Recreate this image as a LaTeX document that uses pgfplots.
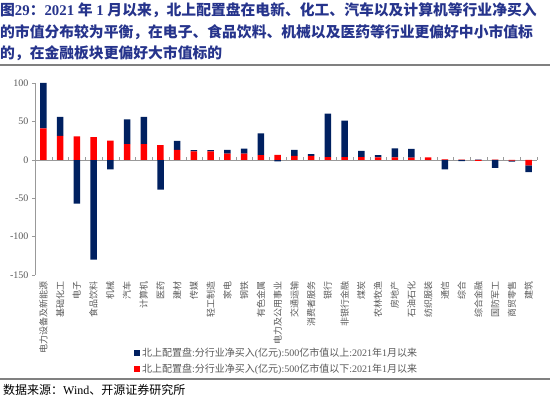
\documentclass[border=0pt]{standalone}
\usepackage{pgfplots}
\pgfplotsset{compat=1.18}
\usepackage{pgfplotstable}
\usepackage{fontspec}
\setmainfont{Liberation Serif}
\newfontfamily\cjk{Noto Sans CJK SC}
\definecolor{navy}{RGB}{0,32,96}
\definecolor{myred}{RGB}{255,0,0}
\definecolor{ttl}{RGB}{38,52,140}
\definecolor{lab}{RGB}{89,89,89}

% rp/bp: positive parts (red: <500亿, blue: >500亿); rn/bn: negative parts
\pgfplotstableread{
idx rp bp rn bn
0 41 59 0 0
1 31 25 0 0
2 30.5 0 0 -57
3 29.5 0 0 -130
4 25 0 0 -12.5
5 20.5 32 0 0
6 20.5 35.5 0 0
7 19 0 0 -39
8 13 11.5 0 0
9 11 1.7 0 0
10 11 1.5 0 0
11 8 5 0 0
12 8 6.5 0 0
13 6 28.5 0 0
14 6.5 0 0 -2
15 5 8 0 0
16 5 2.5 0 0
17 3.5 56.5 0 0
18 3.5 47.5 0 0
19 3.5 8 0 0
20 3 3 0 0
21 3 12 0 0
22 2.8 11.5 0 0
23 3 0 0 0
24 0.5 0 0 -12.5
25 0.3 0 0 -1.8
26 0 0.3 -1.3 0
27 0.2 0 0 -10.5
28 0 0 -1.2 -1.3
29 0 0 -7.2 -9
}\data

\begin{document}
\begin{tikzpicture}
\path[use as bounding box] (0pt,0pt) rectangle (550pt,398pt);
\begin{scope}[every node/.style={anchor=west, text=ttl, inner sep=0pt, font=\fontsize{14.8}{15}\selectfont\bfseries}]
\node at (0pt,388pt) {{\cjk 图}29{\cjk ：}2021 {\cjk 年} 1 {\cjk 月以来，北上配置盘在电新、化工、汽车以及计算机等行业净买入}};
\node at (0pt,366pt) {\cjk 的市值分布较为平衡，在电子、食品饮料、机械以及医药等行业更偏好中小市值标};
\node at (0pt,345pt) {\cjk 的，在金融板块更偏好大市值标的};
\end{scope}
\draw[line width=1.5pt, gray] (0pt,333pt) -- (550pt,333pt);
\draw[line width=1.5pt, gray] (0pt,19pt) -- (550pt,19pt);
\node[anchor=west, inner sep=0pt, font=\fontsize{12}{12}\selectfont] at (3pt,8pt) {{\cjk 数据来源：}Wind{\cjk 、开源证券研究所}};

\pgfplotsset{common/.style={
  at={(35pt,123pt)}, anchor=south west, width=502pt, height=192pt, scale only axis,
  xmin=-0.5, xmax=29.5, ymin=-150, ymax=100, ybar stacked, bar width=6.5pt}}

\begin{axis}[common,
  axis y line=none, axis x line=middle, axis line style={-, draw=gray!80},
  xtick={-0.5,0.5,...,29.5}, xticklabels={}, ytick=\empty,
  major tick length=3pt, tick align=inside, x tick style={gray!80}]
\addplot[fill=myred, draw=none] table[x=idx,y=rn]{\data};
\addplot[fill=navy, draw=none] table[x=idx,y=bn]{\data};
\end{axis}

\begin{axis}[common,
  axis x line*=bottom, axis y line*=left,
  x axis line style={draw=none}, y axis line style={draw=gray!80},
  xtick={0,...,29}, x tick style={draw=none},
  xticklabels={电力设备及新能源,基础化工,电子,食品饮料,机械,汽车,计算机,医药,建材,传媒,轻工制造,家电,钢铁,有色金属,电力及公用事业,交通运输,消费者服务,银行,非银行金融,煤炭,农林牧渔,房地产,石油石化,纺织服装,通信,综合,综合金融,国防军工,商贸零售,建筑},
  xticklabel style={rotate=90, anchor=east, font=\cjk\fontsize{9}{9}\selectfont, text=lab},
  ytick={-150,-100,...,100}, y tick style={gray!80}, tick align=outside, major tick length=3pt,
  yticklabel style={font=\fontsize{10}{10}\selectfont, text=lab},
  /pgf/number format/assume math mode=true,
  legend style={at={(0.197,-0.37)}, anchor=north west, draw=none, fill=none,
    font=\fontsize{10}{10}\selectfont, text=lab, row sep=1.5pt, inner sep=0pt},
  legend cell align=left,
  legend image code/.code={\fill (0pt,-3pt) rectangle (6pt,3pt);}]
\addlegendimage{fill=navy, draw=none}
\addlegendentry{{\cjk 北上配置盘}:{\cjk 分行业净买入}({\cjk 亿元}):500{\cjk 亿市值以上}:2021{\cjk 年}1{\cjk 月以来}}
\addlegendimage{fill=myred, draw=none}
\addlegendentry{{\cjk 北上配置盘}:{\cjk 分行业净买入}({\cjk 亿元}):500{\cjk 亿市值以下}:2021{\cjk 年}1{\cjk 月以来}}
\addplot[fill=myred, draw=none, forget plot] table[x=idx,y=rp]{\data};
\addplot[fill=navy, draw=none, forget plot] table[x=idx,y=bp]{\data};
\end{axis}
\end{tikzpicture}
\end{document}
